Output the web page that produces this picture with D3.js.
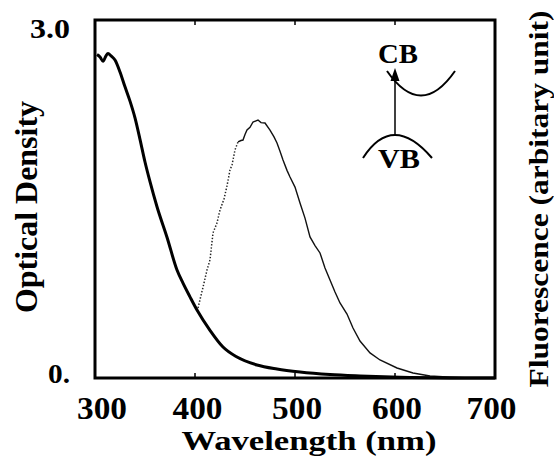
<!DOCTYPE html>
<html>
<head>
<meta charset="utf-8">
<script src="https://cdn.jsdelivr.net/npm/d3@7/dist/d3.min.js"></script>
<style>
  html, body { margin: 0; padding: 0; background: #fff; }
  svg { display: block; }
  text { font-family: "Liberation Serif", "Times New Roman", serif; font-weight: bold; fill: #000; }
</style>
</head>
<body>
<svg id="chart" width="554" height="459"></svg>
<script>
// ---------- data ----------
const absWavelength = [302, 305, 308, 311, 313, 316, 320, 325, 330, 335, 340, 345, 350, 355, 362, 372, 382, 388, 395, 402, 415, 428, 442, 462, 482, 505, 535, 565, 605, 655, 700];
const absOD         = [2.71, 2.69, 2.655, 2.70, 2.72, 2.70, 2.665, 2.565, 2.44, 2.32, 2.18, 2.0, 1.81, 1.645, 1.435, 1.18, 0.905, 0.795, 0.68, 0.57, 0.40, 0.26, 0.176, 0.109, 0.075, 0.050, 0.029, 0.017, 0.006, 0.001, 0.0];

const flRiseWavelength = [403, 408, 412, 415, 418, 422, 425, 429, 432, 435, 437, 440, 443];
const flRiseIntensity  = [0.587, 0.76, 0.905, 0.99, 1.215, 1.30, 1.408, 1.50, 1.61, 1.743, 1.785, 1.911, 1.978];

const flFallWavelength = [443, 446, 448, 450, 452, 455, 458, 461, 463, 466, 470, 475, 479, 482, 485, 488, 492, 495, 500, 505, 510, 515, 520, 525, 530, 535, 540, 545, 552, 558, 565, 575, 585, 602, 618, 635, 652, 675, 700];
const flFallIntensity  = [1.978, 1.99, 1.994, 2.04, 2.078, 2.10, 2.145, 2.155, 2.162, 2.14, 2.137, 2.078, 2.02, 1.969, 1.90, 1.827, 1.74, 1.684, 1.60, 1.467, 1.34, 1.182, 1.11, 1.048, 0.922, 0.821, 0.72, 0.629, 0.536, 0.419, 0.31, 0.21, 0.151, 0.084, 0.042, 0.017, 0.008, 0.0, 0.0];

const xTickValues = [300, 400, 500, 600, 700];
const xTickLabels = ["300", "400", "500", "600", "700"];
const yTickValues = [0, 3];
const yTickLabels = ["0.", "3.0"];
const xTitle = "Wavelength (nm)";
const yTitle = "Optical Density";
const y2Title = "Fluorescence (arbitary unit)";

// ---------- layout ----------
const svg = d3.select("#chart");
const mLeft = 95, mRight = 495, mTop = 20, mBottom = 378;

const x = d3.scaleLinear().domain([300, 700]).range([mLeft, mRight]);
const y = d3.scaleLinear().domain([0, 3]).range([mBottom, mTop]);
const yF = d3.scaleLinear().domain([0, 3]).range([mBottom, mTop]); // arbitrary units

// frame
svg.append("rect")
  .attr("x", mLeft).attr("y", mTop)
  .attr("width", mRight - mLeft).attr("height", mBottom - mTop)
  .attr("fill", "none").attr("stroke", "#000").attr("stroke-width", 3);

// inner minor ticks
const innerTicks = [400, 500, 600];
svg.append("g").selectAll("line").data(innerTicks).join("line")
  .attr("x1", d => x(d)).attr("x2", d => x(d))
  .attr("y1", mBottom).attr("y2", mBottom - 5)
  .attr("stroke", "#000").attr("stroke-width", 1.5);
svg.append("g").selectAll("line").data(innerTicks).join("line")
  .attr("x1", d => x(d)).attr("x2", d => x(d))
  .attr("y1", mTop).attr("y2", mTop + 5)
  .attr("stroke", "#000").attr("stroke-width", 1.5);

// x axis labels
const xAxis = d3.axisBottom(x).tickValues(xTickValues)
  .tickFormat((d, i) => xTickLabels[i]).tickSize(0).tickPadding(0);
const gx = svg.append("g").attr("transform", `translate(0,${mBottom})`).call(xAxis);
gx.select(".domain").remove();
const xLabelShift = [6.5, 2, 1.6, 1.5, -4];
gx.selectAll(".tick text")
  .attr("y", 41).attr("dy", 0)
  .attr("dx", (d, i) => xLabelShift[i])
  .attr("textLength", 50).attr("lengthAdjust", "spacingAndGlyphs")
  .style("font-size", "31px")
  .style("font-family", "'Liberation Serif', 'Times New Roman', serif")
  .style("font-weight", "bold");

// y axis labels
const yAxis = d3.axisLeft(y).tickValues(yTickValues)
  .tickFormat((d, i) => yTickLabels[i]).tickSize(0).tickPadding(25);
const gy = svg.append("g").attr("transform", `translate(${mLeft},0)`).call(yAxis);
gy.select(".domain").remove();
const yLabelDy = [4, 17];
const yLabelLen = [22, 40];
gy.selectAll(".tick text")
  .attr("dy", (d, i) => yLabelDy[i])
  .attr("textLength", (d, i) => yLabelLen[i]).attr("lengthAdjust", "spacingAndGlyphs")
  .style("font-size", "27px")
  .style("font-family", "'Liberation Serif', 'Times New Roman', serif")
  .style("font-weight", "bold");

// titles
svg.append("text")
  .attr("x", 309).attr("y", 450)
  .attr("text-anchor", "middle")
  .style("font-size", "27px")
  .attr("textLength", 255).attr("lengthAdjust", "spacingAndGlyphs")
  .text(xTitle);

svg.append("text")
  .attr("transform", "translate(37,207) rotate(-90)")
  .attr("text-anchor", "middle")
  .style("font-size", "32px")
  .attr("textLength", 212).attr("lengthAdjust", "spacingAndGlyphs")
  .text(yTitle);

svg.append("text")
  .attr("transform", "translate(548,199) rotate(-90)")
  .attr("text-anchor", "middle")
  .style("font-size", "27px")
  .attr("textLength", 377).attr("lengthAdjust", "spacingAndGlyphs")
  .text(y2Title);

// ---------- curves ----------
const absData = absWavelength.map((w, i) => [w, absOD[i]]);
const riseData = flRiseWavelength.map((w, i) => [w, flRiseIntensity[i]]);
const fallData = flFallWavelength.map((w, i) => [w, flFallIntensity[i]]);

const lineAbs = d3.line().x(d => x(d[0])).y(d => y(d[1])).curve(d3.curveMonotoneX);
const lineFl = d3.line().x(d => x(d[0])).y(d => yF(d[1])).curve(d3.curveLinear);

svg.append("path").datum(riseData)
  .attr("d", lineFl).attr("fill", "none")
  .attr("stroke", "#222").attr("stroke-width", 1.5)
  .attr("stroke-dasharray", "1.4,1.8");

svg.append("path").datum(fallData)
  .attr("d", lineFl).attr("fill", "none")
  .attr("stroke", "#111").attr("stroke-width", 1.4);

svg.append("path").datum(absData)
  .attr("d", lineAbs).attr("fill", "none")
  .attr("stroke", "#000").attr("stroke-width", 3)
  .attr("stroke-linejoin", "round");

// ---------- band diagram inset ----------
const inset = svg.append("g");
inset.append("path")
  .attr("d", "M387,71 Q421,120 455,71")
  .attr("fill", "none").attr("stroke", "#000").attr("stroke-width", 2);
inset.append("path")
  .attr("d", "M363,158 Q392.5,112 432,158")
  .attr("fill", "none").attr("stroke", "#000").attr("stroke-width", 2);
inset.append("line")
  .attr("x1", 395).attr("x2", 395).attr("y1", 136).attr("y2", 78)
  .attr("stroke", "#000").attr("stroke-width", 1.5);
inset.append("path")
  .attr("d", "M395,68 L390.5,81 L399.5,81 Z")
  .attr("fill", "#000");
inset.append("text")
  .attr("x", 398).attr("y", 63).attr("text-anchor", "middle")
  .style("font-size", "27px")
  .attr("textLength", 40).attr("lengthAdjust", "spacingAndGlyphs")
  .text("CB");
inset.append("text")
  .attr("x", 399).attr("y", 168).attr("text-anchor", "middle")
  .style("font-size", "27px")
  .attr("textLength", 42).attr("lengthAdjust", "spacingAndGlyphs")
  .text("VB");
</script>
</body>
</html>
